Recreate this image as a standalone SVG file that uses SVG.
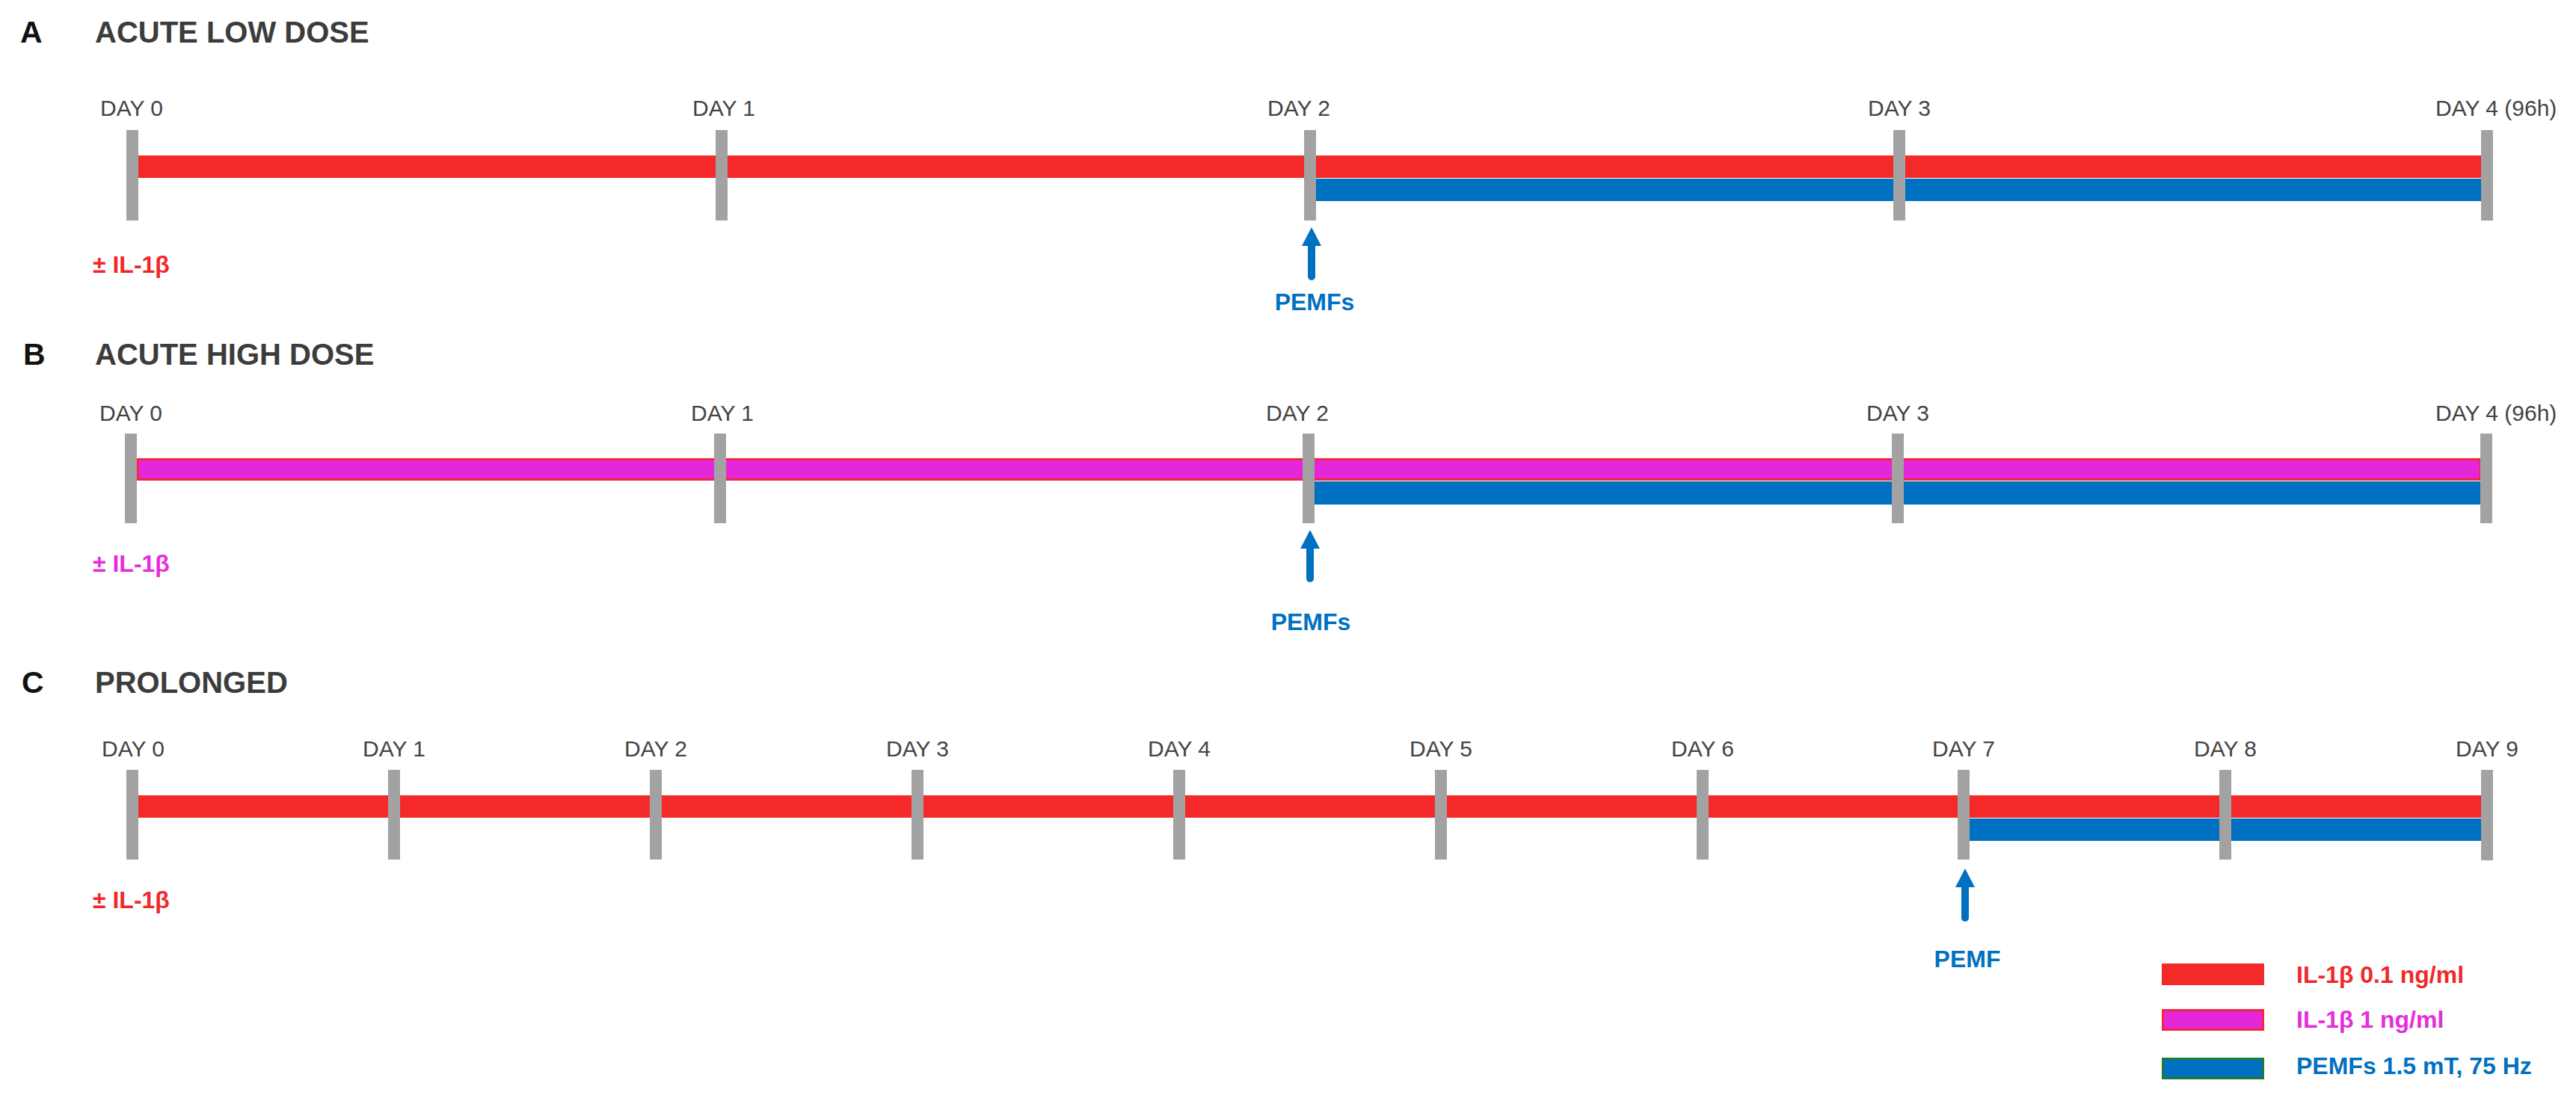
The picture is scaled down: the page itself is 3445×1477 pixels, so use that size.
<svg xmlns="http://www.w3.org/2000/svg" width="3445" height="1477" viewBox="0 0 3445 1477">
<style>
  text { font-family: "Liberation Sans", Arial, sans-serif; }
  .letter { font-size: 41px; font-weight: bold; fill: #111; }
  .title { font-size: 40px; font-weight: bold; fill: #3c3c3c; }
  .day { font-size: 30px; fill: #444; text-anchor: middle; }
  .tick { fill: #a2a2a2; }
  .red { fill: #f42a2a; }
  .mag { fill: #e427d9; stroke: #f2283a; stroke-width: 3; }
  .blue { fill: #0070c0; }
  .il-red { font-size: 32px; font-weight: bold; fill: #f0282a; }
  .il-mag { font-size: 32px; font-weight: bold; fill: #e52ddb; }
  .pemf { font-size: 32px; font-weight: bold; fill: #0070c0; text-anchor: middle; }
  .arrow { stroke: #0070c0; stroke-width: 10; stroke-linecap: round; fill: none; }
  .leg { font-size: 32px; font-weight: bold; }
</style>
<defs>
  <marker id="head" markerUnits="userSpaceOnUse" viewBox="0 0 25 26" markerWidth="25" markerHeight="26" refX="1" refY="13" orient="auto">
    <path d="M0,0 L25,13 L0,26 Z" fill="#0070c0"/>
  </marker>
</defs>
<rect width="3445" height="1477" fill="#fff"/>

<!-- Panel A -->
<g id="panelA">
  <text class="letter" x="27" y="57">A</text>
  <text class="title" x="127" y="57">ACUTE LOW DOSE</text>
  <rect class="red" x="185" y="208" width="3134" height="30"/>
  <rect class="blue" x="1759" y="239" width="1560" height="30"/>
  <g id="A-ticks">
    <rect class="tick" x="169" y="174" width="16" height="121"/>
    <rect class="tick" x="957" y="174" width="16" height="121"/>
    <rect class="tick" x="1744" y="174" width="16" height="121"/>
    <rect class="tick" x="2532" y="174" width="16" height="121"/>
    <rect class="tick" x="3318" y="174" width="16" height="121"/>
  </g>
  <text class="day" x="176" y="155">DAY 0</text>
  <text class="day" x="968" y="155">DAY 1</text>
  <text class="day" x="1737" y="155">DAY 2</text>
  <text class="day" x="2540" y="155">DAY 3</text>
  <text class="day" x="3257" y="155" style="text-anchor:start">DAY 4 (96h)</text>
  <text class="il-red" x="124" y="365">± IL-1β</text>
  <text class="pemf" x="1758" y="415">PEMFs</text>
</g>

<!-- Panel B -->
<g id="panelB">
  <text class="letter" x="31" y="488">B</text>
  <text class="title" x="127" y="488">ACUTE HIGH DOSE</text>
  <rect class="mag" x="184" y="614.5" width="3133" height="27"/>
  <rect class="blue" x="1758" y="644" width="1559" height="31"/>
  <g id="B-ticks">
    <rect class="tick" x="167" y="580" width="16" height="120"/>
    <rect class="tick" x="955" y="580" width="16" height="120"/>
    <rect class="tick" x="1742" y="580" width="16" height="120"/>
    <rect class="tick" x="2530" y="580" width="16" height="120"/>
    <rect class="tick" x="3317" y="580" width="16" height="120"/>
  </g>
  <text class="day" x="175" y="563">DAY 0</text>
  <text class="day" x="966" y="563">DAY 1</text>
  <text class="day" x="1735" y="563">DAY 2</text>
  <text class="day" x="2538" y="563">DAY 3</text>
  <text class="day" x="3257" y="563" style="text-anchor:start">DAY 4 (96h)</text>
  <text class="il-mag" x="124" y="765">± IL-1β</text>
  <text class="pemf" x="1753" y="843">PEMFs</text>
</g>

<!-- Panel C -->
<g id="panelC">
  <text class="letter" x="29" y="927">C</text>
  <text class="title" x="127" y="927">PROLONGED</text>
  <rect class="red" x="185" y="1064" width="3134" height="30"/>
  <rect class="blue" x="2634" y="1095" width="685" height="30"/>
  <g id="C-ticks">
    <rect class="tick" x="169" y="1030" width="16" height="120"/>
    <rect class="tick" x="519" y="1030" width="16" height="120"/>
    <rect class="tick" x="869" y="1030" width="16" height="120"/>
    <rect class="tick" x="1219" y="1030" width="16" height="120"/>
    <rect class="tick" x="1569" y="1030" width="16" height="120"/>
    <rect class="tick" x="1919" y="1030" width="16" height="120"/>
    <rect class="tick" x="2269" y="1030" width="16" height="120"/>
    <rect class="tick" x="2618" y="1030" width="16" height="120"/>
    <rect class="tick" x="2968" y="1030" width="16" height="120"/>
    <rect class="tick" x="3318" y="1030" width="16" height="121"/>
  </g>
  <text class="day" x="178" y="1012">DAY 0</text>
  <text class="day" x="527" y="1012">DAY 1</text>
  <text class="day" x="877" y="1012">DAY 2</text>
  <text class="day" x="1227" y="1012">DAY 3</text>
  <text class="day" x="1577" y="1012">DAY 4</text>
  <text class="day" x="1927" y="1012">DAY 5</text>
  <text class="day" x="2277" y="1012">DAY 6</text>
  <text class="day" x="2626" y="1012">DAY 7</text>
  <text class="day" x="2976" y="1012">DAY 8</text>
  <text class="day" x="3326" y="1012">DAY 9</text>
  <text class="il-red" x="124" y="1215">± IL-1β</text>
  <text class="pemf" x="2631" y="1294">PEMF</text>
</g>

<!-- Connectors (PEMF application arrows) -->
<g id="connectors">
  <line class="arrow" x1="1754" y1="370" x2="1754" y2="328" marker-end="url(#head)"/>
  <line class="arrow" x1="1752" y1="774" x2="1752" y2="733" marker-end="url(#head)"/>
  <line class="arrow" x1="2628" y1="1228" x2="2628" y2="1186" marker-end="url(#head)"/>
</g>

<!-- Legend -->
<g id="legend">
  <rect class="red" x="2891" y="1289" width="137" height="29"/>
  <text class="leg" x="3071" y="1315" fill="#f0282a">IL-1β 0.1 ng/ml</text>
  <rect class="mag" x="2892.5" y="1351.5" width="134" height="26"/>
  <text class="leg" x="3071" y="1375" fill="#e52ddb">IL-1β 1 ng/ml</text>
  <rect x="2892.5" y="1416.5" width="134" height="26" fill="#0070c0" stroke="#1e7b34" stroke-width="3"/>
  <text class="leg" x="3071" y="1437" fill="#0070c0">PEMFs 1.5 mT, 75 Hz</text>
</g>
</svg>
